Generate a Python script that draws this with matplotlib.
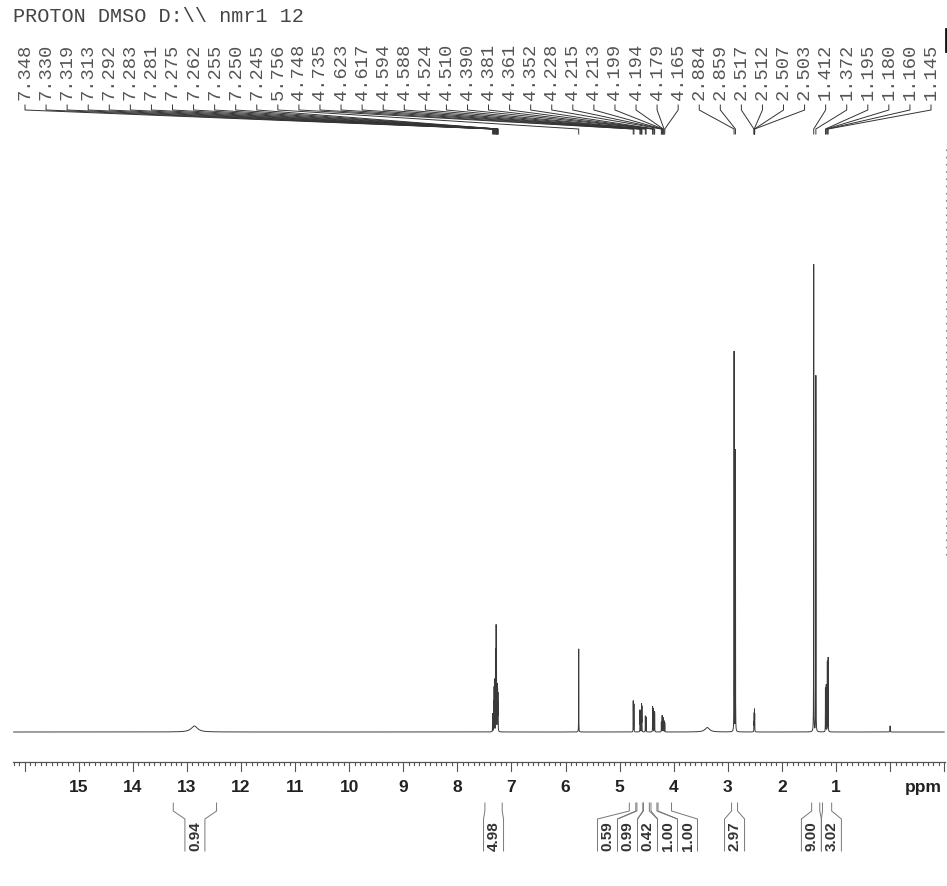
import numpy as np
import matplotlib
matplotlib.use('Agg')
import matplotlib.pyplot as plt

title = "PROTON DMSO D:\\\\ nmr1 12"

# labelled peaks (ppm) and their heights above baseline
shifts = [7.348, 7.330, 7.319, 7.313, 7.292, 7.283, 7.281, 7.275, 7.262, 7.255, 7.250, 7.245,
          5.756,
          4.748, 4.735, 4.623, 4.617, 4.594, 4.588, 4.524, 4.510, 4.390,
          4.381, 4.361, 4.352, 4.228, 4.215, 4.213, 4.199, 4.194, 4.179, 4.165,
          2.884, 2.859, 2.517, 2.512, 2.507, 2.503,
          1.412, 1.372, 1.195, 1.180, 1.160, 1.145]
heights = [18, 30, 42, 50, 80, 78, 72, 62, 45, 38, 34, 26,
           83,
           31, 28, 21, 20, 27, 25, 16, 15, 25,
           23, 20, 19, 10, 12, 12, 13, 13, 11, 9,
           380, 283, 9, 17, 20, 16,
           468, 361, 44, 47, 70, 74]

# broad / unlabelled signals
broad_ppm = [12.86, 3.38, 0.0]
broad_h = [6, 4.5, 6]
broad_w = [0.07, 0.05, 0.003]

# integrals: region (high, low ppm) and value
int_hi = [13.25, 7.49, 4.82, 4.68, 4.56, 4.42, 4.29, 2.93, 1.45, 1.25]
int_lo = [12.45, 7.17, 4.70, 4.57, 4.45, 4.31, 4.04, 2.82, 1.30, 1.08]
int_val = ["0.94", "4.98", "0.59", "0.99", "0.42", "1.00", "1.00", "2.97", "9.00", "3.02"]

# screen layout of the original plot (px)
PX1, PXPPM, BASE = 836.0, 54.1, 733.0


def ppm(px):
    return 1 + (PX1 - px) / PXPPM


def pix(p):
    return PX1 + (1 - p) * PXPPM


def yy(row):
    return BASE - row


fig = plt.figure(figsize=(9.47, 8.87), dpi=100)
ax = fig.add_axes([0, 0, 1, 1])
ax.axis('off')
ax.set_xlim(ppm(0), ppm(947))
ax.set_ylim(yy(887), yy(0))

# spectrum trace
x = np.linspace(16.2, -1.0, 48001)
y = np.zeros_like(x)
for p, h in zip(shifts, heights):
    w = 0.0014
    y += h / (1 + ((x - p) / w) ** 2)
for p, h, w in zip(broad_ppm, broad_h, broad_w):
    y += h / (1 + ((x - p) / w) ** 2)
ax.plot(x, y, color='#3a3a3a', lw=0.7)

# title
ax.text(ppm(13), yy(16), title, family='Liberation Mono', fontsize=14.5,
        color='#444444', ha='left', va='center')

# peak labels with leader lines
n = len(shifts)
lab_px = [25 + i * (931 - 25) / (n - 1) for i in range(n)]
for lx, p in zip(lab_px, shifts):
    ax.text(ppm(lx), yy(71.5), "%.3f" % p, family='Liberation Mono', fontsize=13.5,
            rotation=90, color='#555555', ha='center', va='center')
    ax.plot([ppm(lx), ppm(lx), p, p], [yy(106), yy(111), yy(130), yy(135)],
            color='#333333', lw=0.7)

# ppm axis
ax.plot([ppm(13), ppm(945)], [yy(763), yy(763)], color='#555555', lw=0.9)
ticks = np.arange(-10, 163) / 10
for t in ticks:
    major = abs(t - round(t)) < 1e-6
    ax.plot([t, t], [yy(763), yy(772 if major else 766)], color='#555555', lw=0.8)
for k in range(1, 16):
    ax.text(k, yy(788), str(k), fontsize=12.5, fontweight='bold', family='Liberation Sans',
            color='#222222', ha='center', va='center')
ax.text(ppm(923), yy(788), "ppm", fontsize=12.5, fontweight='bold', family='Liberation Sans',
        color='#222222', ha='center', va='center')


# integral labels, spread so they do not overlap
def place(g, gap):
    m = np.mean(g)
    return [m + (j - (len(g) - 1) / 2) * gap for j in range(len(g))]


def spread(cs, gap=20.0):
    groups = [[c] for c in cs]
    changed = True
    while changed:
        changed = False
        for k in range(len(groups) - 1):
            if place(groups[k + 1], gap)[0] - place(groups[k], gap)[-1] < gap:
                groups[k] = groups[k] + groups.pop(k + 1)
                changed = True
                break
    out = []
    for g in groups:
        out += place(g, gap)
    return out


centers = [pix((a + b) / 2) for a, b in zip(int_hi, int_lo)]
pos = spread(centers)
for a, b, v, c in zip(int_hi, int_lo, int_val, pos):
    xl, xr = pix(a), pix(b)
    ax.plot([a, a, ppm(c - 10), ppm(c - 10)], [yy(804), yy(812), yy(820), yy(852)],
            color='#777777', lw=0.7)
    ax.plot([b, b, ppm(c + 10), ppm(c + 10)], [yy(804), yy(812), yy(820), yy(852)],
            color='#777777', lw=0.7)
    ax.text(ppm(c), yy(836), v, rotation=90, fontsize=11, fontweight='bold',
            family='Liberation Sans', color='#333333', ha='center', va='center')

# right-hand intensity marker
ax.plot([ppm(946), ppm(946)], [yy(150), yy(560)], color='#888888', lw=0.8,
        linestyle=(0, (1.5, 5)))
ax.plot([ppm(945.5), ppm(945.5)], [yy(30), yy(52)], color='#111111', lw=2)

fig.savefig('out.png', dpi=100)
